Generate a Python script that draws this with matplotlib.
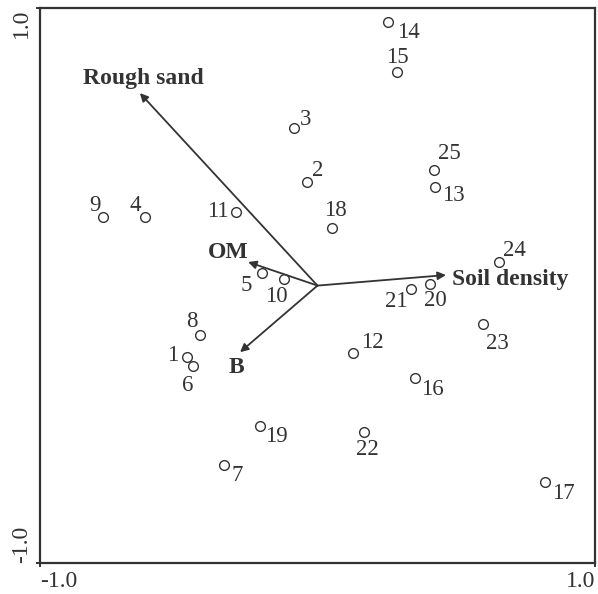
import matplotlib.pyplot as plt

plt.rcParams['font.family'] = ['Liberation Serif', 'DejaVu Serif']

# Sample scores (site numbers and ordination coordinates)
sites = [str(i) for i in range(1, 26)]
site_x = [-0.470, -0.038, -0.085, -0.622, -0.200, -0.449, -0.337, -0.423, -0.773, -0.121,
          -0.294, 0.128, 0.424, 0.254, 0.287, 0.352, 0.820, 0.052, -0.207, 0.406,
          0.337, 0.168, 0.597, 0.654, 0.420]
site_y = [-0.258, 0.373, 0.568, 0.247, 0.045, -0.290, -0.647, -0.178, 0.247, 0.023,
          0.265, -0.243, 0.355, 0.950, 0.769, -0.333, -0.708, 0.207, -0.506, 0.005,
          -0.013, -0.528, -0.139, 0.085, 0.416]

# Environmental variable vectors
env_names = ['Rough sand', 'OM', 'B', 'Soil density']
env_x = [-0.640, -0.250, -0.279, 0.463]
env_y = [0.694, 0.085, -0.240, 0.038]

# label offsets in pixels (placement only)
site_offsets = [(-14, 2), (11, 12), (12, 9), (-10, 12), (-16, -12), (-5, -19), (13, -10),
                (-8, 13), (-8, 12), (-8, -17), (-18, 1), (19, 11), (18, -8), (20, -10),
                (0, 15), (17, -12), (18, -12), (4, 18), (16, -11), (5, -16), (-15, -12),
                (3, -17), (14, -19), (15, 12), (15, 17)]
env_offsets = [(3, 15), (-20, 10), (-4, -15), (6, -4)]
env_ha = ['center', 'center', 'center', 'left']

ink = '#333333'

fig = plt.figure(figsize=(5.98, 5.94), dpi=100)
ax = fig.add_axes([0.0669, 0.0522, 0.928, 0.934])

ax.plot(site_x, site_y, 'o', markersize=7, markerfacecolor='white',
        markeredgecolor=ink, markeredgewidth=1.0, linestyle='none', zorder=3)

for name, x, y, (dx, dy) in zip(sites, site_x, site_y, site_offsets):
    ax.annotate(name, (x, y), xytext=(dx, dy), textcoords='offset pixels',
                ha='center', va='center', fontsize=16.5, color=ink)

# Arrows from the origin
for name, x, y, (dx, dy), ha in zip(env_names, env_x, env_y, env_offsets, env_ha):
    ax.annotate('', xy=(x, y), xytext=(0, 0),
                arrowprops=dict(arrowstyle='-|>', color=ink, lw=1.3,
                                mutation_scale=12, shrinkA=0, shrinkB=0))
    ax.annotate(name, (x, y), xytext=(dx, dy), textcoords='offset pixels',
                ha=ha, va='center', fontsize=17, fontweight='bold', color=ink)

ax.set_xlim(-1, 1)
ax.set_ylim(-1, 1)
ax.set_xticks([-1, 1])
ax.set_yticks([-1, 1])
ax.set_xticklabels(['-1.0', '1.0'])
ax.set_yticklabels(['-1.0', '1.0'])
ax.tick_params(direction='out', length=3, width=1.4, color=ink, labelcolor=ink,
               labelsize=17, pad=3)

xl = ax.get_xticklabels()
xl[0].set_ha('left')
xl[1].set_ha('right')
yl = ax.get_yticklabels()
for t in yl:
    t.set_rotation(90)
yl[0].set_va('bottom')
yl[1].set_va('top')

for sp in ax.spines.values():
    sp.set_linewidth(1.6)
    sp.set_color(ink)

fig.savefig('out.png', dpi=100)
